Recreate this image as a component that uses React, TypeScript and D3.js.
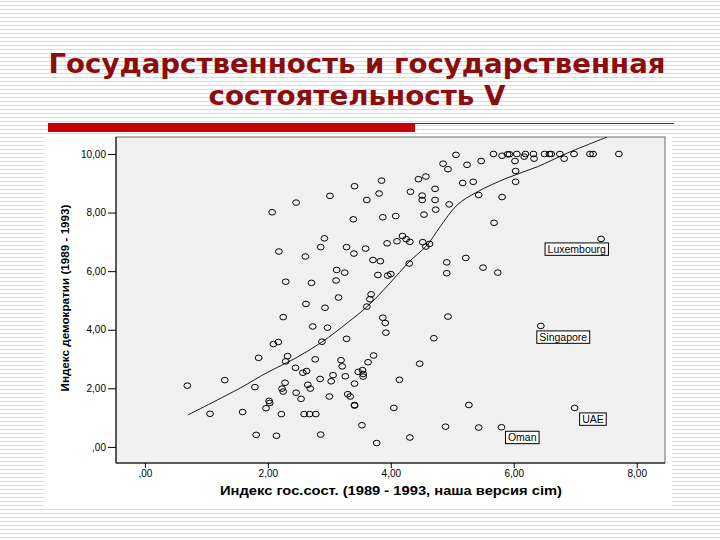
import React, { useRef, useEffect } from 'react'
import * as d3 from 'd3'

const title1 = 'Государственность и государственная'
const title2 = 'состоятельность V'
const xLabel = 'Индекс гос.сост. (1989 - 1993, наша версия cim)'
const yLabel = 'Индекс демократии (1989 - 1993)'

const xTicks = [0, 2, 4, 6, 8]
const xTickLabels = [',00', '2,00', '4,00', '6,00', '8,00']
const yTicks = [0, 2, 4, 6, 8, 10]
const yTickLabels = [',00', '2,00', '4,00', '6,00', '8,00', '10,00']

// state capacity index (x) / democracy index (y), one entry per country
const gosX = [
  2.07, 2.46, 3.01, 2.18, 2.61, 2.86, 2.92, 3.12, 3.11, 2.29, 2.71, 3.15, 2.62, 2.93,
  3.41, 3.85, 3.61, 3.81, 3.39, 3.87, 4.08, 4.32, 4.45, 4.57, 4.51, 4.51, 4.72, 4.72,
  4.73, 4.54, 4.95, 4.85, 4.93, 5.06, 3.28, 3.4, 3.59, 3.94, 4.1, 4.19, 4.25, 4.31,
  4.52, 4.63, 4.57, 3.71, 3.83, 4.3, 4.91, 4.91, 3.25, 3.79, 3.95, 4.0, 3.68, 3.66,
  5.24, 5.47, 5.67, 5.81, 5.9, 5.93, 6.05, 6.17, 6.19, 6.32, 6.33, 6.5, 6.58, 6.61,
  6.75, 6.82, 6.98, 7.24, 7.29, 7.71, 6.02, 6.03, 6.03, 5.17, 5.34, 5.43, 5.81, 5.68,
  5.22, 5.5, 5.74, 4.93, 3.87, 3.91, 3.92, 4.7, 4.47, 4.14, 4.05, 5.27, 4.89, 5.43,
  4.31, 3.61, 2.25, 2.73, 2.97, 2.17, 2.09, 2.88, 3.28, 1.85, 2.32, 2.29, 2.77, 3.19,
  3.21, 3.63, 3.72, 2.45, 2.57, 2.63, 3.06, 3.03, 2.85, 3.26, 3.47, 3.54, 3.55, 3.55,
  3.41, 1.79, 2.28, 2.23, 2.25, 2.65, 2.69, 2.46, 2.54, 3.0, 3.3, 3.34, 3.41, 3.41,
  2.02, 2.03, 1.97, 1.59, 2.22, 2.59, 2.68, 2.78, 3.53, 1.81, 2.14, 2.86, 3.77, 0.69,
  1.3, 1.06,
]
const demY = [
  8.01, 8.34, 8.57, 6.67, 6.5, 6.82, 7.12, 6.04, 5.68, 5.64, 5.6, 5.1, 4.88, 4.75,
  8.9, 9.09, 8.43, 8.65, 7.77, 7.84, 7.88, 8.71, 9.14, 9.23, 8.58, 8.43, 8.81, 8.43,
  8.1, 7.93, 8.28, 9.67, 9.48, 9.97, 6.82, 6.6, 6.77, 6.95, 7.02, 7.2, 7.09, 7.0,
  6.99, 6.93, 6.84, 6.38, 6.34, 6.26, 6.3, 5.93, 5.95, 5.87, 5.85, 5.9, 5.21, 5.04,
  9.63, 9.76, 10.0, 9.94, 9.99, 9.99, 10.0, 9.91, 10.0, 10.0, 9.84, 10.0, 10.0, 10.0,
  10.0, 9.84, 10.0, 10.0, 10.0, 10.0, 9.76, 9.42, 9.05, 9.01, 9.05, 8.6, 8.53, 7.65,
  6.45, 6.12, 5.95, 4.45, 4.41, 4.23, 3.9, 3.71, 2.84, 2.29, 1.33, 1.43, 0.69, 0.66,
  0.32, 4.79, 4.43, 4.11, 4.07, 3.58, 3.51, 3.59, 3.69, 3.04, 3.1, 2.92, 2.99, 2.96,
  2.75, 2.89, 3.12, 2.7, 2.53, 2.59, 2.45, 2.24, 2.32, 2.41, 2.56, 2.62, 2.49, 2.4,
  2.16, 2.04, 2.19, 1.99, 1.89, 2.12, 1.99, 1.85, 1.64, 1.72, 1.8, 1.72, 1.43, 1.41,
  1.57, 1.5, 1.32, 1.19, 1.12, 1.12, 1.12, 1.12, 0.74, 0.41, 0.38, 0.42, 0.13, 2.09,
  2.28, 1.13,
]

// labelled outliers
const namedStates = ['Luxembourg', 'Singapore', 'UAE', 'Oman']
const namedX = [7.42, 6.44, 6.99, 5.8]
const namedY = [7.1, 4.13, 1.33, 0.67]
// where each label box sits relative to its point (px)
const labelOffsets = [[-56, 4], [-4, 5], [5, 5], [4, 4]]

// loess fit line
const fitX = [0.7, 1.55, 1.99, 2.46, 2.88, 3.29, 3.61, 3.99, 4.28, 4.59, 4.8, 5.08, 5.4, 5.89, 6.38, 6.87, 7.52]
const fitY = [1.09, 2.01, 2.54, 3.04, 3.58, 4.23, 4.78, 5.6, 6.28, 6.89, 7.51, 8.26, 8.7, 9.18, 9.56, 10.03, 10.58]

const W = 720
const H = 540
const plot = { left: 116, right: 665, top: 137, bottom: 463 }

const renderChart = (el: SVGSVGElement) => {
  const svg = d3.select(el)
  svg.selectAll('*').remove()

  const defs = svg.append('defs')
  const pat = defs
    .append('pattern')
    .attr('id', 'stripes')
    .attr('width', 8)
    .attr('height', 4)
    .attr('patternUnits', 'userSpaceOnUse')
  pat.append('rect').attr('width', 8).attr('height', 4).attr('fill', '#fff')
  pat.append('rect').attr('y', 1).attr('width', 8).attr('height', 1).attr('fill', '#dadada')
  defs
    .append('clipPath')
    .attr('id', 'plotClip')
    .append('rect')
    .attr('x', plot.left)
    .attr('y', plot.top)
    .attr('width', plot.right - plot.left)
    .attr('height', plot.bottom - plot.top)

  // slide background
  svg.append('rect').attr('width', W).attr('height', H).attr('fill', 'url(#stripes)')

  // title
  const title = svg
    .append('g')
    .attr('font-family', '"DejaVu Sans", Verdana, sans-serif')
    .attr('font-weight', 'bold')
    .attr('font-size', 27)
    .attr('fill', '#8b0e0e')
    .attr('text-anchor', 'middle')
  title
    .append('text')
    .attr('x', 357)
    .attr('y', 73)
    .attr('textLength', 617)
    .attr('lengthAdjust', 'spacingAndGlyphs')
    .text(title1)
  title
    .append('text')
    .attr('x', 357)
    .attr('y', 105)
    .attr('textLength', 297)
    .attr('lengthAdjust', 'spacingAndGlyphs')
    .text(title2)

  svg.append('rect').attr('x', 48).attr('y', 123).attr('width', 367).attr('height', 9).attr('fill', '#c80000')
  svg.append('line').attr('x1', 415).attr('x2', 674).attr('y1', 123.5).attr('y2', 123.5).attr('stroke', '#c00000')

  // chart picture
  svg.append('rect').attr('x', 44).attr('y', 134).attr('width', 628).attr('height', 374).attr('fill', '#fff')

  const xScale = d3.scaleLinear().domain([-0.47, 8.46]).range([plot.left, plot.right])
  const yScale = d3.scaleLinear().domain([-0.55, 10.58]).range([plot.bottom, plot.top])

  svg
    .append('rect')
    .attr('x', plot.left)
    .attr('y', plot.top)
    .attr('width', plot.right - plot.left)
    .attr('height', plot.bottom - plot.top)
    .attr('fill', '#f0f0f0')
    .attr('stroke', '#6e6e6e')

  const yAxis = d3
    .axisLeft(yScale)
    .tickValues(yTicks)
    .tickFormat((d, i) => yTickLabels[i])
    .tickSize(8)
    .tickPadding(2)
  const xAxis = d3
    .axisBottom(xScale)
    .tickValues(xTicks)
    .tickFormat((d, i) => xTickLabels[i])
    .tickSize(5)
    .tickPadding(1.5)

  const gy = svg.append('g').attr('transform', `translate(${plot.left}, 0)`).call(yAxis)
  const gx = svg.append('g').attr('transform', `translate(0, ${plot.bottom})`).call(xAxis)
  ;[gx, gy].forEach((g) => {
    g.select('.domain').remove()
    g.attr('font-family', '"Liberation Sans", Arial, sans-serif').attr('font-size', 10)
    g.selectAll('text').attr('fill', '#000')
    g.selectAll('line').attr('stroke', '#000')
  })

  svg
    .append('path')
    .attr('d', `M${plot.left},${plot.top}V${plot.bottom}H${plot.right}`)
    .attr('fill', 'none')
    .attr('stroke', '#000')

  // axis titles
  svg
    .append('text')
    .attr('x', 391)
    .attr('y', 495)
    .attr('text-anchor', 'middle')
    .attr('font-family', '"Liberation Sans", Arial, sans-serif')
    .attr('font-weight', 'bold')
    .attr('font-size', 12)
    .attr('textLength', 342)
    .attr('lengthAdjust', 'spacingAndGlyphs')
    .text(xLabel)
  svg
    .append('text')
    .attr('transform', `translate(69, 298) rotate(-90)`)
    .attr('text-anchor', 'middle')
    .attr('font-family', '"Liberation Sans", Arial, sans-serif')
    .attr('font-weight', 'bold')
    .attr('font-size', 11)
    .attr('textLength', 187)
    .attr('lengthAdjust', 'spacingAndGlyphs')
    .text(yLabel)

  const inner = svg.append('g').attr('clip-path', 'url(#plotClip)')

  // loess line
  const line = d3
    .line<number>()
    .x((d, i) => xScale(fitX[i]))
    .y((d) => yScale(d))
    .curve(d3.curveCatmullRom.alpha(0.5))
  inner
    .append('path')
    .datum(fitY)
    .attr('fill', 'none')
    .attr('stroke', '#1a1a1a')
    .attr('stroke-width', 1)
    .attr('d', line)

  const allX = gosX.concat(namedX)
  const allY = demY.concat(namedY)
  inner
    .selectAll('ellipse')
    .data(allX)
    .enter()
    .append('ellipse')
    .attr('cx', (d) => xScale(d))
    .attr('cy', (d, i) => yScale(allY[i]))
    .attr('rx', 3.4)
    .attr('ry', 2.8)
    .attr('fill', 'none')
    .attr('stroke', '#000')
    .attr('stroke-width', 1)

  // labels for outliers
  namedStates.forEach((name, i) => {
    const bx = xScale(namedX[i]) + labelOffsets[i][0]
    const by = yScale(namedY[i]) + labelOffsets[i][1]
    const g = inner.append('g')
    const rect = g.append('rect')
    const txt = g
      .append('text')
      .attr('x', bx + 2.5)
      .attr('y', by + 9.6)
      .attr('font-family', '"Liberation Sans", Arial, sans-serif')
      .attr('font-size', 10.5)
      .attr('fill', '#000')
      .text(name)
    const w = (txt.node() as SVGTextElement).getComputedTextLength() + 5
    rect
      .attr('x', bx)
      .attr('y', by)
      .attr('width', w)
      .attr('height', 12.4)
      .attr('fill', '#fff')
      .attr('stroke', '#000')
      .attr('stroke-width', 1)
  })
}

export default function App() {
  const ref = useRef<SVGSVGElement>(null)
  useEffect(() => {
    if (ref.current) renderChart(ref.current)
  }, [])
  return (
    <svg
      ref={ref}
      width={W}
      height={H}
      style={{ position: 'absolute', left: 0, top: 0, display: 'block' }}
    />
  )
}
